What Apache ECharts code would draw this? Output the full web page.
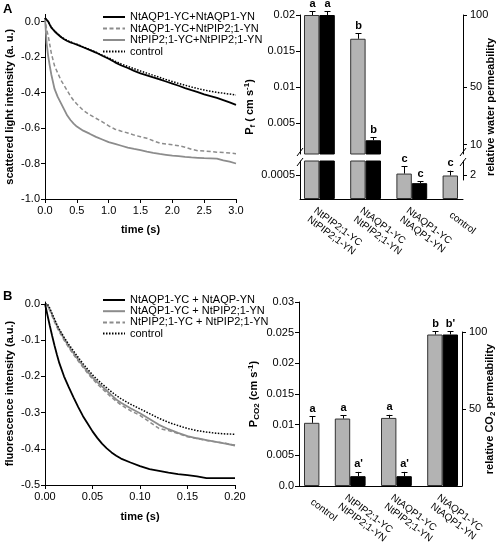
<!DOCTYPE html>
<html><head><meta charset="utf-8">
<script src="https://cdn.jsdelivr.net/npm/echarts@6/dist/echarts.min.js"></script>
<style>html,body{margin:0;padding:0;background:#fff}#c{width:498px;height:552px}</style>
</head><body><div id="c"></div>
<script>
// ---------------- Panel A (left): scattered light traces ----------------
const timeA = [0,0.025,0.05,0.075,0.1,0.15,0.2,0.25,0.3,0.35,0.4,0.45,0.5,0.6,0.7,0.8,0.9,1.0,1.1,1.2,1.3,1.4,1.5,1.6,1.7,1.8,1.9,2.0,2.1,2.2,2.3,2.4,2.5,2.6,2.7,2.8,2.9,3.0];
const aqpAqpA = [0.02,0.012,0.0,-0.018,-0.035,-0.055,-0.072,-0.087,-0.1,-0.11,-0.118,-0.124,-0.13,-0.145,-0.16,-0.175,-0.193,-0.21,-0.23,-0.248,-0.262,-0.278,-0.292,-0.303,-0.315,-0.326,-0.338,-0.35,-0.362,-0.375,-0.387,-0.398,-0.41,-0.42,-0.43,-0.443,-0.456,-0.47];
const aqpPipA = [0.02,-0.045,-0.08,-0.13,-0.18,-0.25,-0.29,-0.33,-0.36,-0.39,-0.42,-0.445,-0.465,-0.5,-0.525,-0.545,-0.565,-0.588,-0.607,-0.618,-0.628,-0.64,-0.649,-0.658,-0.672,-0.685,-0.69,-0.695,-0.7,-0.708,-0.72,-0.728,-0.73,-0.733,-0.736,-0.738,-0.741,-0.745];
const pipPipA = [0.02,-0.12,-0.195,-0.25,-0.3,-0.38,-0.425,-0.46,-0.495,-0.53,-0.555,-0.575,-0.592,-0.615,-0.632,-0.65,-0.665,-0.68,-0.69,-0.7,-0.71,-0.718,-0.725,-0.733,-0.74,-0.746,-0.751,-0.756,-0.759,-0.763,-0.766,-0.768,-0.77,-0.771,-0.773,-0.783,-0.79,-0.8];
const controlA = [0.02,0.012,0.0,-0.017,-0.033,-0.053,-0.07,-0.085,-0.097,-0.107,-0.115,-0.122,-0.128,-0.143,-0.158,-0.173,-0.19,-0.205,-0.223,-0.24,-0.253,-0.266,-0.279,-0.291,-0.303,-0.315,-0.327,-0.338,-0.349,-0.359,-0.369,-0.378,-0.386,-0.393,-0.399,-0.404,-0.409,-0.414];
const namesA = ['NtAQP1-YC+NtAQP1-YN','NtAQP1-YC+NtPIP2;1-YN','NtPIP2;1-YC+NtPIP2;1-YN','control'];
const yTicksA = [-1.0,-0.8,-0.6,-0.4,-0.2,0.0];

// ---------------- Panel A (right): water permeability bars ----------------
const pfGroups = ['NtPIP2;1-YC\nNtPIP2;1-YN','NtAQP1-YC\nNtPIP2;1-YN','NtAQP1-YC\nNtAQP1-YN','control'];
const pfGrey = [0.0200,0.0167,0.00053,0.00049];
const pfGreyErr = [0.00055,0.00074,0.00015,0.0001];
const pfGreyLetters = ['a','b','c','c'];
const pfBlack = [0.0200,0.0026,0.00033,null];
const pfBlackErr = [0.00055,0.0004,0.00004,null];
const pfBlackLetters = ['a','b','c',null];
const pfRef = 0.02;            // 100 % relative permeability
const pfUpperTicks = [0.005,0.01,0.015,0.02];
const pfLowerTicks = [0.0005];
const relUpperTicks = [10,50,100];
const relLowerTicks = [2];

// ---------------- Panel B (left): fluorescence traces ----------------
const timeB = [0,0.0025,0.005,0.0075,0.01,0.0125,0.015,0.02,0.025,0.03,0.035,0.04,0.045,0.05,0.055,0.06,0.065,0.07,0.075,0.08,0.09,0.10,0.11,0.12,0.13,0.14,0.15,0.16,0.17,0.18,0.19,0.20];
const aqpAqpB = [0,-0.03,-0.06,-0.088,-0.115,-0.14,-0.163,-0.2,-0.23,-0.258,-0.285,-0.31,-0.331,-0.352,-0.37,-0.386,-0.399,-0.41,-0.419,-0.427,-0.438,-0.448,-0.456,-0.461,-0.466,-0.47,-0.473,-0.476,-0.481,-0.481,-0.481,-0.481];
const aqpPipB = [0,-0.004,-0.015,-0.03,-0.045,-0.06,-0.073,-0.096,-0.117,-0.136,-0.154,-0.171,-0.188,-0.203,-0.216,-0.228,-0.24,-0.252,-0.264,-0.273,-0.288,-0.302,-0.318,-0.334,-0.346,-0.356,-0.365,-0.371,-0.376,-0.381,-0.386,-0.391];
const pipPipB = [0,-0.006,-0.018,-0.034,-0.05,-0.064,-0.077,-0.1,-0.121,-0.14,-0.158,-0.175,-0.192,-0.207,-0.221,-0.234,-0.246,-0.258,-0.269,-0.279,-0.295,-0.308,-0.326,-0.344,-0.35,-0.358,-0.367,-0.372,-0.377,-0.381,-0.385,-0.39];
const controlB = [0,0,-0.012,-0.027,-0.042,-0.057,-0.07,-0.092,-0.112,-0.13,-0.148,-0.165,-0.181,-0.196,-0.209,-0.221,-0.232,-0.243,-0.253,-0.262,-0.277,-0.29,-0.303,-0.316,-0.327,-0.336,-0.344,-0.35,-0.354,-0.357,-0.359,-0.36];
const namesB = ['NtAQP1-YC + NtAQP-YN','NtAQP1-YC + NtPIP2;1-YN','NtPIP2;1-YC + NtPIP2;1-YN','control'];
const yTicksB = [-0.5,-0.4,-0.3,-0.2,-0.1,0.0];

// ---------------- Panel B (right): CO2 permeability bars ----------------
const pcGroups = ['control','NtPIP2;1-YC\nNtPIP2;1-YN','NtAQP1-YC\nNtPIP2;1-YN','NtAQP1-YC\nNtAQP1-YN'];
const pcGrey = [0.0103,0.0110,0.0111,0.0247];
const pcGreyErr = [0.0011,0.0005,0.0005,0.0005];
const pcGreyLetters = ['a','a','a','b'];
const pcBlack = [null,0.0016,0.0016,0.0247];
const pcBlackErr = [null,0.0007,0.0007,0.0005];
const pcBlackLetters = [null,"a'","a'","b'"];
const pcRelTicks = [50,100];

// ---------------- helpers ----------------
const FONT = '"Liberation Sans", Arial, Helvetica, sans-serif';
const GREY_LINE = '#8c8c8c', GREY_BAR = '#b3b3b3';

function buildSlots(groups, gv, ge, gl, bv, be, bl) {
  const out = [];
  groups.forEach((name, i) => {
    out.push({label: name, value: gv[i], err: ge[i], letter: gl[i], kind: 'grey'});
    if (bv[i] != null) out.push({label: '', value: bv[i], err: be[i], letter: bl[i], kind: 'black'});
    if (i < groups.length - 1) out.push({label: '', value: null, kind: 'gap'});
  });
  return out;
}
const slotsA = buildSlots(pfGroups, pfGrey, pfGreyErr, pfGreyLetters, pfBlack, pfBlackErr, pfBlackLetters);
const slotsB = buildSlots(pcGroups, pcGrey, pcGreyErr, pcGreyLetters, pcBlack, pcBlackErr, pcBlackLetters);

// broken axis ranges of panel A bars
const upperMin = 0.000694, lowerMax = 0.000792;

function barData(slots, keep) {
  return slots.map(s => {
    if (s.value == null || !keep(s)) return '-';
    return {value: s.value, itemStyle: s.kind === 'grey'
      ? {color: GREY_BAR, borderColor: '#333', borderWidth: 1}
      : {color: '#000', borderColor: '#000', borderWidth: 1}};
  });
}
function barSeries(slots, xi, yi, keep) {
  return {type: 'bar', xAxisIndex: xi, yAxisIndex: yi, data: barData(slots, keep),
    barWidth: '100%', barCategoryGap: '0%', clip: true, silent: true};
}
function errSeries(slots, xi, yi, keep) {
  const items = [], letters = [];
  slots.forEach((s, i) => {
    if (s.value != null && keep(s)) { items.push([i, s.value, s.err]); letters.push(s.letter); }
  });
  return {
    type: 'custom', xAxisIndex: xi, yAxisIndex: yi, clip: false, silent: true, z: 5, data: items,
    renderItem(params, api) {
      const i = api.value(0), v = api.value(1), e = api.value(2);
      const p0 = api.coord([i, v]), p1 = api.coord([i, v + e]);
      const x = Math.round(p0[0]) + 0.5;
      return {type: 'group', children: [
        {type: 'line', shape: {x1: x, y1: p0[1], x2: x, y2: p1[1]}, style: {stroke: '#000', lineWidth: 1}},
        {type: 'line', shape: {x1: x - 3, y1: Math.round(p1[1]) + 0.5, x2: x + 3, y2: Math.round(p1[1]) + 0.5}, style: {stroke: '#000', lineWidth: 1}},
        {type: 'text', x: x, y: p1[1] - 2, style: {text: letters[params.dataIndex], align: 'center', verticalAlign: 'bottom', font: 'bold 11px ' + FONT, fill: '#000'}}
      ]};
    }
  };
}
function lineSeries(name, t, v, xi, yi, color, width, type, z) {
  return {type: 'line', name: name, xAxisIndex: xi, yAxisIndex: yi, data: t.map((x, i) => [x, v[i]]),
    symbol: 'none', showSymbol: false, silent: true, z: z || 2,
    lineStyle: {color: color, width: width, type: type}, itemStyle: {color: color}};
}

const lineCol = '#000';
const tickStyle = {show: true, length: 4, inside: false, lineStyle: {color: lineCol, width: 1}};
const lblStyle = {color: '#000', fontSize: 11, fontFamily: FONT};
const nameStyle = {color: '#000', fontSize: 11, fontWeight: 'bold', fontFamily: FONT,
  rich: {s: {fontSize: 8, fontWeight: 'bold', fontFamily: FONT, verticalAlign: 'bottom', lineHeight: 14},
         p: {fontSize: 8, fontWeight: 'bold', fontFamily: FONT, verticalAlign: 'top', lineHeight: 14}}};
const hiddenX = (g, type) => ({gridIndex: g, type: type || 'value', show: false, min: 0, max: 1});
const axisLineOn = {show: true, onZero: false, lineStyle: {color: lineCol, width: 1}};

const grid = (l, t, w, h) => ({left: l, top: t, width: w, height: h, containLabel: false, outerBoundsMode: 'none'});
const legendBase = {orient: 'vertical', left: 102, padding: 0, itemWidth: 22, itemHeight: 8,
  selectedMode: false, itemStyle: {opacity: 0, borderWidth: 0}};

const option = {
  animation: false,
  backgroundColor: '#fff',
  textStyle: {fontFamily: FONT},
  grid: [
    grid(45, 14.4, 191, 184.6),   // 0 lines A
    grid(45, 302, 190, 183),      // 1 lines B
    grid(304, 15, 154, 139),      // 2 bars A upper
    grid(304, 161, 154, 38),      // 3 bars A lower
    grid(300, 15, 163, 139),      // 4 axes A upper
    grid(300, 161, 163, 38),      // 5 axes A lower-left
    grid(300, 161, 163, 19),      // 6 axis A lower-right
    grid(300, 15, 163, 184),      // 7 frame A
    grid(304, 302, 154, 184),     // 8 bars B
    grid(299, 302, 163, 184),     // 9 axes B left
    grid(299, 332, 163, 154)      // 10 axis B right
  ],
  xAxis: [
    {gridIndex: 0, type: 'value', min: 0, max: 3, interval: 0.5, axisLine: axisLineOn, axisTick: tickStyle,
     axisLabel: Object.assign({margin: 6, formatter: v => v.toFixed(1)}, lblStyle), splitLine: {show: false},
     name: 'time (s)', nameLocation: 'middle', nameGap: 25, nameTextStyle: nameStyle},
    {gridIndex: 1, type: 'value', min: 0, max: 0.2, interval: 0.05, axisLine: axisLineOn, axisTick: tickStyle,
     axisLabel: Object.assign({margin: 6, formatter: v => v.toFixed(2)}, lblStyle), splitLine: {show: false},
     name: 'time (s)', nameLocation: 'middle', nameGap: 26, nameTextStyle: nameStyle},
    {gridIndex: 2, type: 'category', data: slotsA.map((s, i) => 'a' + i), show: false},
    {gridIndex: 3, type: 'category', data: slotsA.map((s, i) => 'a' + i), axisLine: {show: false}, axisTick: {show: false},
     axisLabel: {interval: 0, rotate: -37, margin: 15, hideOverlap: false, fontSize: 10, lineHeight: 11, color: '#000', fontFamily: FONT,
       formatter: (v, i) => slotsA[i].label}},
    hiddenX(4), hiddenX(5), hiddenX(6),
    {gridIndex: 7, type: 'value', min: 0, max: 1, axisLine: axisLineOn, axisTick: {show: false}, axisLabel: {show: false}, splitLine: {show: false}},
    {gridIndex: 8, type: 'category', data: slotsB.map((s, i) => 'b' + i), axisLine: {show: false}, axisTick: {show: false},
     axisLabel: {interval: 0, rotate: -37, margin: 15, hideOverlap: false, fontSize: 10, lineHeight: 11, color: '#000', fontFamily: FONT,
       formatter: (v, i) => slotsB[i].label}},
    {gridIndex: 9, type: 'value', min: 0, max: 1, axisLine: axisLineOn, axisTick: {show: false}, axisLabel: {show: false}, splitLine: {show: false}},
    hiddenX(10)
  ],
  yAxis: [
    {gridIndex: 0, type: 'value', min: -1, max: 0.04, axisLine: axisLineOn,
     axisTick: Object.assign({customValues: yTicksA}, tickStyle),
     axisLabel: Object.assign({margin: 5, customValues: yTicksA, formatter: v => v.toFixed(1)}, lblStyle), splitLine: {show: false},
     name: 'scattered light intensity (a. u.)', nameLocation: 'middle', nameRotate: 90, nameGap: 30, nameTextStyle: nameStyle},
    {gridIndex: 1, type: 'value', min: -0.5, max: 0.005, axisLine: axisLineOn,
     axisTick: Object.assign({customValues: yTicksB}, tickStyle),
     axisLabel: Object.assign({margin: 5, customValues: yTicksB, formatter: v => v.toFixed(1)}, lblStyle), splitLine: {show: false},
     name: 'fluorescence intensity (a.u.)', nameLocation: 'middle', nameRotate: 90, nameGap: 30, nameTextStyle: nameStyle},
    {gridIndex: 2, type: 'value', min: upperMin, max: 0.02, show: false},
    {gridIndex: 3, type: 'value', min: 0, max: lowerMax, show: false},
    {gridIndex: 4, type: 'value', position: 'left', min: upperMin, max: 0.02, axisLine: axisLineOn,
     axisTick: Object.assign({customValues: pfUpperTicks}, tickStyle),
     axisLabel: Object.assign({margin: 5, customValues: pfUpperTicks}, lblStyle), splitLine: {show: false}},
    {gridIndex: 4, type: 'value', position: 'right', min: 100 * upperMin / pfRef, max: 100, axisLine: axisLineOn,
     axisTick: Object.assign({customValues: relUpperTicks}, tickStyle),
     axisLabel: Object.assign({margin: 7, customValues: relUpperTicks}, lblStyle), splitLine: {show: false}},
    {gridIndex: 5, type: 'value', position: 'left', min: 0, max: lowerMax, axisLine: axisLineOn,
     axisTick: Object.assign({customValues: pfLowerTicks}, tickStyle),
     axisLabel: Object.assign({margin: 5, customValues: pfLowerTicks}, lblStyle), splitLine: {show: false}},
    {gridIndex: 6, type: 'value', position: 'right', min: 1.5, max: 3.4, axisLine: axisLineOn,
     axisTick: Object.assign({customValues: relLowerTicks}, tickStyle),
     axisLabel: Object.assign({margin: 7, customValues: relLowerTicks}, lblStyle), splitLine: {show: false}},
    {gridIndex: 7, type: 'value', position: 'left', min: 0, max: 1, axisLine: {show: false}, axisTick: {show: false}, axisLabel: {show: false}, splitLine: {show: false},
     name: 'P{s|f} ( cm s{p|-1})', nameLocation: 'middle', nameRotate: 90, nameGap: 43, nameTextStyle: nameStyle},
    {gridIndex: 7, type: 'value', position: 'right', min: 0, max: 1, axisLine: {show: false}, axisTick: {show: false}, axisLabel: {show: false}, splitLine: {show: false},
     name: 'relative water permeability', nameLocation: 'middle', nameRotate: 90, nameGap: 22, nameTextStyle: nameStyle},
    {gridIndex: 8, type: 'value', min: 0, max: 0.03, show: false},
    {gridIndex: 9, type: 'value', position: 'left', min: 0, max: 0.03, interval: 0.005, axisLine: axisLineOn, axisTick: tickStyle,
     axisLabel: Object.assign({margin: 5, formatter: v => v === 0 ? '0.0' : String(+v.toFixed(3))}, lblStyle), splitLine: {show: false},
     name: 'P{s|CO2} (cm s{p|-1})', nameLocation: 'middle', nameRotate: 90, nameGap: 38, nameMoveOverlap: false, nameTextStyle: nameStyle},
    {gridIndex: 10, type: 'value', position: 'right', min: 0, max: 100, axisLine: axisLineOn,
     axisTick: Object.assign({customValues: pcRelTicks}, tickStyle),
     axisLabel: Object.assign({margin: 7, customValues: pcRelTicks}, lblStyle), splitLine: {show: false},
     name: 'relative CO{s|2} permeability', nameLocation: 'middle', nameRotate: 90, nameGap: 21, nameMoveOverlap: false, nameTextStyle: nameStyle}
  ],
  legend: [
    Object.assign({data: namesA, top: 11.5, itemGap: 0.5,
      textStyle: {color: '#000', fontSize: 11, lineHeight: 11, fontFamily: FONT}}, legendBase),
    Object.assign({data: namesB, top: 294.5, itemGap: 0.2,
      textStyle: {color: '#000', fontSize: 11, lineHeight: 10.5, fontFamily: FONT}}, legendBase)
  ],
  series: [
    lineSeries(namesA[1], timeA, aqpPipA, 0, 0, GREY_LINE, 1.5, [4, 2.5], 2),
    lineSeries(namesA[2], timeA, pipPipA, 0, 0, GREY_LINE, 1.8, 'solid', 2),
    lineSeries(namesA[3], timeA, controlA, 0, 0, '#000', 1.5, [1.5, 1.5], 3),
    lineSeries(namesA[0], timeA, aqpAqpA, 0, 0, '#000', 1.8, 'solid', 4),
    lineSeries(namesB[0], timeB, aqpAqpB, 1, 1, '#000', 1.8, 'solid', 4),
    lineSeries(namesB[1], timeB, aqpPipB, 1, 1, GREY_LINE, 1.8, 'solid', 2),
    lineSeries(namesB[2], timeB, pipPipB, 1, 1, GREY_LINE, 1.5, [4, 2.5], 2),
    lineSeries(namesB[3], timeB, controlB, 1, 1, '#000', 1.5, [1.5, 1.5], 3),
    barSeries(slotsA, 2, 2, s => s.value > upperMin),
    barSeries(slotsA, 3, 3, s => true),
    errSeries(slotsA, 2, 2, s => s.value > upperMin),
    errSeries(slotsA, 3, 3, s => s.value + s.err < lowerMax),
    barSeries(slotsB, 8, 10, s => true),
    errSeries(slotsB, 8, 10, s => true)
  ],
  graphic: [
    {type: 'text', left: 3, top: 3, style: {text: 'A', font: 'bold 13px ' + FONT, fill: '#000'}},
    {type: 'text', left: 3, top: 290, style: {text: 'B', font: 'bold 13px ' + FONT, fill: '#000'}},
    {type: 'line', shape: {x1: 297, y1: 156, x2: 303, y2: 148}, style: {stroke: '#000', lineWidth: 1}},
    {type: 'line', shape: {x1: 297, y1: 166, x2: 303, y2: 158}, style: {stroke: '#000', lineWidth: 1}},
    {type: 'line', shape: {x1: 460, y1: 156, x2: 466, y2: 148}, style: {stroke: '#000', lineWidth: 1}},
    {type: 'line', shape: {x1: 460, y1: 166, x2: 466, y2: 158}, style: {stroke: '#000', lineWidth: 1}}
  ]
};

const chart = echarts.init(document.getElementById('c'), null, {renderer: 'canvas', width: 498, height: 552});
chart.setOption(option);
</script>
</body></html>
